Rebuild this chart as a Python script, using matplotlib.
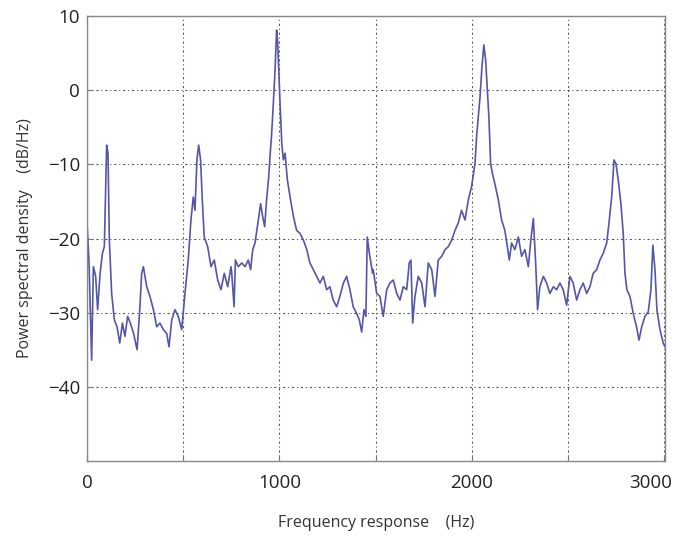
import matplotlib
matplotlib.use("Agg")
import matplotlib.pyplot as plt
import matplotlib.transforms as mtransforms

# traced power spectral density (Hz, dB/Hz)
freq = [0, 10, 24, 33, 45, 55, 68, 80, 90, 102, 109, 116, 128, 142, 156, 170,
        184, 197, 211, 225, 242, 260, 274, 284, 293, 310, 327, 345, 362, 379,
        397, 414, 426, 440, 457, 474, 492, 509, 526, 540, 552, 561, 571, 580,
        590, 599, 609, 627, 644, 661, 679, 696, 713, 731, 748, 752, 764, 771,
        786, 804, 821, 838, 850, 861, 873, 890, 902, 913, 923, 933, 944, 952,
        959, 968, 977, 985, 990, 996, 1003, 1012, 1020, 1029, 1041, 1055, 1073,
        1089, 1106, 1124, 1142, 1158, 1176, 1193, 1210, 1228, 1245, 1262, 1279,
        1297, 1314, 1332, 1349, 1366, 1383, 1401, 1415, 1427, 1439, 1449, 1456,
        1467, 1484, 1487, 1505, 1522, 1539, 1557, 1574, 1591, 1609, 1626, 1643,
        1661, 1674, 1683, 1692, 1704, 1721, 1739, 1756, 1773, 1791, 1808, 1825,
        1843, 1860, 1877, 1895, 1912, 1929, 1946, 1964, 1981, 1998, 2016, 2024,
        2033, 2042, 2052, 2062, 2071, 2080, 2088, 2097, 2106, 2119, 2137, 2154,
        2171, 2184, 2194, 2206, 2223, 2241, 2258, 2275, 2293, 2306, 2319, 2331,
        2341, 2353, 2371, 2388, 2405, 2423, 2440, 2457, 2474, 2492, 2509, 2526,
        2544, 2561, 2578, 2596, 2613, 2630, 2648, 2665, 2682, 2700, 2712, 2726,
        2738, 2748, 2760, 2774, 2786, 2795, 2805, 2821, 2838, 2855, 2868, 2882,
        2899, 2916, 2930, 2940, 2951, 2961, 2977, 2994, 3003]
psd = [-17.9, -22.9, -36.4, -23.8, -25.1, -29.6, -24.7, -22.0, -21.1, -7.4,
       -8.5, -20.2, -27.4, -31.0, -31.9, -34.1, -31.4, -33.2, -30.5, -31.4,
       -32.8, -35.0, -29.6, -24.7, -23.8, -26.5, -27.8, -29.6, -31.9, -31.4,
       -32.3, -32.8, -34.6, -31.0, -29.6, -30.5, -32.3, -27.4, -22.9, -17.5,
       -14.4, -16.2, -9.4, -7.4, -9.4, -14.8, -19.8, -21.1, -23.8, -22.9,
       -25.6, -26.9, -24.7, -26.5, -23.8, -24.7, -29.2, -22.9, -23.8, -23.3,
       -23.8, -22.9, -24.2, -21.5, -20.6, -17.5, -15.3, -17.1, -18.4, -14.8,
       -11.7, -8.5, -6.0, -1.8, 2.7, 8.1, 6.8, 2.7, -1.8, -7.2, -9.4, -8.5,
       -12.1, -14.4, -17.1, -18.9, -19.3, -20.2, -21.5, -23.3, -24.2, -25.1,
       -26.0, -25.1, -26.9, -26.5, -28.3, -29.2, -27.8, -26.0, -25.1, -26.9,
       -29.2, -30.1, -31.0, -32.6, -29.6, -30.5, -19.8, -22.0, -24.7, -24.2,
       -27.4, -27.8, -30.5, -26.9, -26.0, -25.6, -27.4, -28.3, -26.5, -26.9,
       -23.3, -22.9, -31.4, -27.8, -25.1, -26.0, -29.2, -23.3, -24.2, -27.8,
       -22.9, -22.4, -21.5, -21.1, -20.2, -18.9, -17.9, -16.2, -17.5, -14.8,
       -13.0, -9.9, -6.3, -3.6, -0.9, 3.2, 6.1, 4.1, 0.0, -3.6, -9.9, -11.2,
       -12.6, -14.8, -17.5, -18.9, -21.1, -22.9, -20.6, -21.5, -19.8, -22.4,
       -21.5, -23.8, -20.2, -17.3, -23.3, -29.6, -26.5, -25.1, -26.0, -27.4,
       -26.5, -26.9, -26.0, -26.9, -29.0, -25.1, -26.0, -28.3, -26.9, -26.0,
       -27.4, -26.5, -24.7, -24.2, -22.9, -22.0, -20.6, -17.9, -14.4, -9.4,
       -9.9, -12.1, -15.3, -19.3, -24.7, -26.9, -27.8, -30.1, -31.9, -33.7,
       -31.9, -30.5, -29.9, -26.9, -20.9, -24.2, -29.6, -32.3, -34.1, -34.6]

x_ticks = [0, 500, 1000, 1500, 2000, 2500, 3000]
x_labels = ['0', '', '1000', '', '2000', '', '3000']
y_ticks = [-40, -30, -20, -10, 0, 10]
y_labels = ['\u221240', '\u221230', '\u221220', '\u221210', '0', '10']

plt.rcParams['font.family'] = ['Open Sans', 'DejaVu Sans']

fig = plt.figure(figsize=(6.73, 5.37), dpi=100)
ax = fig.add_axes([0.1293, 0.1415, 0.8588, 0.8287])

ax.plot(freq, psd, color='#5555aa', linewidth=1.2)

ax.set_xlim(0, 3003)
ax.set_ylim(-50, 10)
ax.set_xticks(x_ticks)
ax.set_xticklabels(x_labels)
ax.set_yticks(y_ticks)
ax.set_yticklabels(y_labels)

ax.grid(True, color='#555555', linestyle=(0, (2, 2.5, 1, 2.5)), linewidth=0.8)
ax.tick_params(direction='in', length=4, color='#777777', labelsize=13.5,
               labelcolor='#222222')
ax.tick_params(axis='x', pad=9)
ax.tick_params(axis='y', pad=5)
for s in ax.spines.values():
    s.set_color('#888888')
    s.set_linewidth(1.0)

# last x label sits flush with the right side
last = ax.get_xticklabels()[-1]
last.set_horizontalalignment('right')
last.set_transform(last.get_transform() +
                   mtransforms.ScaledTranslation(0.08, 0, fig.dpi_scale_trans))

ax.set_xlabel('Frequency response    (Hz)', fontsize=11.5, color='#333333',
              labelpad=17)
ax.set_ylabel('Power spectral density    (dB/Hz)', fontsize=11.5,
              color='#333333', labelpad=11)

fig.savefig('out.png', dpi=100)
